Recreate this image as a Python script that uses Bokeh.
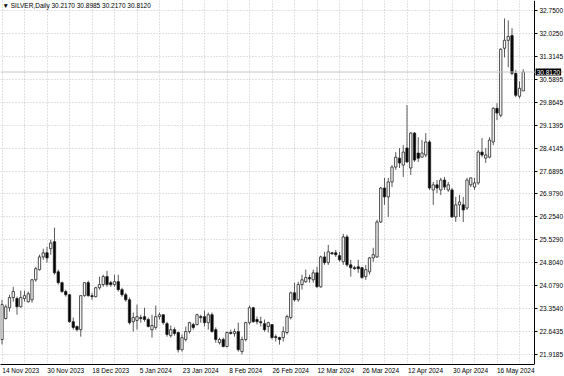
from bokeh.plotting import figure
from bokeh.models import (Range1d, FixedTicker, NumeralTickFormatter, Span, Label,
                          BoxAnnotation, ColumnDataSource)
from bokeh.embed import file_html
from bokeh.resources import INLINE

# ---- data (SILVER, Daily), one entry per bar ----
opens = [22.39, 23.05, 23.39, 23.71, 23.68, 23.42, 23.68, 23.58, 23.64, 24.27,
         24.59, 24.99, 25.12, 25.25, 25.47, 24.52, 24.18, 23.90, 23.80, 22.95,
         22.80, 22.70, 23.77, 24.18, 23.77, 23.74, 24.02, 24.12, 24.37, 24.18,
         24.12, 24.21, 23.96, 23.80, 23.64, 22.95, 22.99, 23.08, 23.11, 23.02,
         22.70, 22.77, 23.11, 23.17, 22.89, 22.51, 22.70, 22.61, 22.07, 22.39,
         22.64, 22.86, 22.86, 23.11, 23.11, 22.92, 23.17, 22.70, 22.29, 22.39,
         22.17, 22.61, 22.58, 22.64, 22.01, 22.39, 22.92, 23.39, 23.02, 22.95,
         22.89, 22.80, 22.86, 22.48, 22.45, 22.45, 22.61, 23.08, 23.86, 23.64,
         24.12, 24.21, 24.34, 24.27, 24.49, 24.05, 24.99, 24.81, 25.12, 25.12,
         25.03, 24.84, 25.62, 24.74, 24.65, 24.68, 24.65, 24.37, 24.52, 24.96,
         24.99, 26.09, 27.16, 26.88, 27.35, 27.82, 28.10, 27.88, 28.42, 27.79,
         28.89, 28.26, 28.13, 28.20, 28.61, 27.10, 27.26, 27.10, 27.41, 27.10,
         27.10, 26.25, 26.63, 26.63, 26.53, 27.26, 27.19, 27.32, 28.29, 28.10,
         28.13, 28.61, 29.67, 29.45, 31.56, 31.81, 31.96, 30.77, 30.05, 30.2170]
highs = [23.64, 23.49, 23.80, 24.05, 23.74, 23.93, 23.93, 23.90, 24.30, 24.68,
         25.06, 25.25, 25.31, 25.53, 25.91, 24.59, 24.21, 23.96, 23.83, 23.08,
         22.83, 23.77, 24.18, 24.24, 23.86, 24.05, 24.37, 24.43, 24.55, 24.24,
         24.43, 24.43, 24.02, 23.86, 23.71, 23.24, 23.49, 23.17, 23.39, 23.08,
         23.17, 23.46, 23.24, 23.17, 22.95, 22.83, 22.77, 22.64, 22.55, 22.80,
         22.95, 22.92, 23.20, 23.17, 23.30, 23.24, 23.24, 22.77, 22.45, 22.45,
         22.64, 22.70, 22.73, 22.92, 22.48, 22.95, 23.46, 23.42, 23.11, 23.11,
         23.02, 22.95, 22.86, 22.55, 22.48, 22.80, 23.17, 23.90, 24.18, 24.21,
         24.43, 24.59, 24.43, 24.59, 24.68, 25.03, 25.15, 25.37, 25.15, 25.21,
         25.15, 25.72, 25.69, 24.90, 24.71, 24.90, 24.68, 24.74, 24.99, 25.28,
         26.16, 27.19, 27.48, 27.48, 27.88, 28.29, 28.42, 28.51, 29.77, 28.92,
         28.92, 28.76, 28.67, 28.89, 28.67, 27.35, 27.41, 27.48, 27.51, 27.35,
         27.16, 26.88, 26.94, 26.88, 27.48, 27.48, 27.48, 28.35, 28.73, 28.42,
         28.76, 29.70, 29.83, 31.56, 32.50, 32.44, 32.19, 30.87, 30.52, 30.8985]
lows = [22.23, 23.02, 23.27, 23.58, 23.17, 23.39, 23.58, 23.55, 23.55, 24.21,
        24.56, 24.90, 24.81, 25.06, 24.43, 24.12, 23.86, 23.74, 22.92, 22.70,
        22.64, 22.48, 23.74, 23.74, 23.64, 23.71, 23.96, 24.05, 24.05, 24.05,
        24.05, 23.90, 23.74, 23.58, 22.86, 22.64, 22.70, 22.92, 22.95, 22.77,
        22.45, 22.70, 23.02, 22.86, 22.48, 22.45, 22.51, 21.98, 22.01, 22.33,
        22.58, 22.70, 22.83, 22.92, 22.80, 22.70, 22.61, 22.29, 22.23, 22.14,
        22.14, 22.55, 22.48, 22.01, 21.92, 22.33, 22.86, 22.92, 22.86, 22.80,
        22.64, 22.61, 22.39, 22.33, 22.23, 22.33, 22.55, 23.02, 23.58, 23.58,
        23.96, 24.18, 24.18, 24.18, 24.02, 24.02, 24.74, 24.74, 25.06, 24.99,
        24.84, 24.74, 24.68, 24.37, 24.59, 24.49, 24.30, 24.27, 24.43, 24.84,
        24.96, 26.06, 26.63, 26.25, 27.19, 27.73, 27.79, 27.51, 27.95, 27.57,
        27.98, 27.98, 28.13, 28.13, 27.10, 26.63, 27.00, 26.94, 27.10, 27.04,
        26.22, 26.09, 26.25, 26.09, 26.47, 27.19, 27.10, 27.26, 28.13, 27.95,
        28.10, 28.51, 29.30, 29.39, 31.27, 30.96, 30.71, 30.02, 29.98, 30.2170]
closes = [23.49, 23.42, 23.71, 23.90, 23.42, 23.71, 23.77, 23.83, 24.27, 24.62,
          24.99, 25.12, 24.96, 25.43, 24.49, 24.18, 23.90, 23.80, 22.95, 22.77,
          22.70, 23.77, 24.18, 23.77, 23.74, 24.02, 24.12, 24.37, 24.12, 24.12,
          24.21, 23.96, 23.80, 23.64, 22.92, 23.08, 23.11, 23.05, 23.02, 22.80,
          22.83, 23.11, 23.17, 22.92, 22.55, 22.70, 22.58, 22.07, 22.45, 22.64,
          22.92, 22.77, 23.17, 23.08, 22.92, 23.17, 22.64, 22.39, 22.39, 22.17,
          22.61, 22.58, 22.64, 22.07, 22.39, 22.92, 23.39, 22.95, 22.95, 22.92,
          22.70, 22.92, 22.45, 22.45, 22.39, 22.64, 23.11, 23.86, 23.64, 24.12,
          24.27, 24.34, 24.30, 24.49, 24.05, 24.99, 24.81, 25.15, 25.09, 25.06,
          24.90, 25.62, 24.74, 24.65, 24.62, 24.62, 24.34, 24.59, 24.96, 25.06,
          26.09, 27.16, 26.88, 27.35, 27.82, 28.13, 27.95, 28.29, 27.98, 28.89,
          28.04, 28.10, 28.26, 28.61, 27.16, 27.26, 27.16, 27.41, 27.19, 27.26,
          26.25, 26.63, 26.72, 26.47, 27.41, 27.48, 27.32, 28.29, 28.20, 28.20,
          28.67, 29.67, 29.52, 31.53, 31.81, 31.93, 30.77, 30.08, 30.30, 30.8120]

price_ticks = [32.7500, 32.0250, 31.3145, 30.5895, 29.8645, 29.1395, 28.4145, 27.6895,
               26.9790, 26.2540, 25.5290, 24.8040, 24.0790, 23.3540, 22.6435, 21.9185]
date_labels = ["14 Nov 2023", "30 Nov 2023", "18 Dec 2023", "5 Jan 2024", "23 Jan 2024",
               "8 Feb 2024", "26 Feb 2024", "12 Mar 2024", "26 Mar 2024", "12 Apr 2024",
               "30 Apr 2024", "16 May 2024"]
date_label_bars = [0, 12, 24, 36, 48, 60, 72, 84, 96, 108, 120, 132]
symbol_text = "SILVER,Daily"
last_price = 30.8120

# ---- build ----
n = len(opens)
xs = list(range(n))
bull = [c >= o for o, c in zip(opens, closes)]
src = ColumnDataSource(dict(
    x=xs, open=opens, high=highs, low=lows, close=closes,
    top=[max(o, c) for o, c in zip(opens, closes)],
    bottom=[min(o, c) for o, c in zip(opens, closes)],
    fill=["#ffffff" if b else "#000000" for b in bull],
))

X_START = -0.4     # left edge of the chart area
X_END = 142.0      # position of the price scale line
X_CANVAS = 150.0   # right edge of the canvas (price scale lives inside the frame)
p = figure(width=564, height=376, output_backend="svg", toolbar_location=None,
           x_range=Range1d(X_START, X_CANVAS), y_range=Range1d(21.603, 33.064),
           y_axis_location="right", min_border_left=0, min_border_top=0,
           min_border_right=0, min_border_bottom=11,
           background_fill_color="white", border_fill_color="white",
           outline_line_color=None)

FONT = "Liberation Sans"

# grid
p.xgrid.ticker = FixedTicker(ticks=list(range(0, 142, 6)))
p.ygrid.ticker = FixedTicker(ticks=price_ticks)
for g in (p.xgrid, p.ygrid):
    g.grid_line_color = "#c4c4c4"
    g.grid_line_dash = "1 2"
    g.grid_line_width = 1

# blank price-scale strip (grid lines stop at the scale)
p.add_layout(BoxAnnotation(left=X_END, fill_color="white", fill_alpha=1.0,
                           line_color=None, level="underlay"))

# price line
p.add_layout(Span(location=last_price, dimension="width", line_color="#c8c8c8", line_width=1))

# candles
p.segment(x0="x", y0="low", x1="x", y1="high", source=src, line_color="#5a5a5a", line_width=1)
p.vbar(x="x", width=0.62, top="top", bottom="bottom", source=src,
       fill_color="fill", line_color="#222222", line_width=0.8)

# y axis (price scale) pinned at X_END
ya = p.yaxis[0]
ya.fixed_location = X_END
ya.ticker = FixedTicker(ticks=price_ticks)
ya.formatter = NumeralTickFormatter(format="0.0000")
ya.major_label_text_font = FONT
ya.major_label_text_font_size = "6.5px"
ya.major_label_text_color = "#000000"
ya.major_tick_out = 3
ya.major_tick_in = 0
ya.minor_tick_out = 0
ya.minor_tick_in = 0
ya.major_label_standoff = 2
ya.axis_line_color = "#000000"
ya.major_tick_line_color = "#000000"

# x axis (bottom) - labels start just right of their grid line
xa = p.xaxis[0]
xa.bounds = (X_START, X_END)
label_pos = [b + 5 for b in date_label_bars]
xa.ticker = FixedTicker(ticks=label_pos)
xa.major_label_overrides = {pos: lab for pos, lab in zip(label_pos, date_labels)}
xa.major_label_text_font = FONT
xa.major_label_text_font_size = "6.5px"
xa.major_label_text_color = "#000000"
xa.major_tick_out = 0
xa.major_tick_in = 0
xa.minor_tick_out = 0
xa.minor_tick_in = 0
xa.major_label_standoff = 2
xa.axis_line_color = "#000000"

# current price tag on the price scale
tag_kw = dict(x=X_END + 0.3, y=last_price, x_units="data", y_units="data",
              text=f"{last_price:.4f}", text_color="white", text_font=FONT,
              text_font_size="6.5px", text_baseline="middle", text_align="left",
              background_fill_color="#000000")
try:
    tag = Label(padding=1, **tag_kw)
except Exception:
    tag = Label(**tag_kw)
p.add_layout(tag)

# header text
header = f"\u25BC {symbol_text}  {opens[-1]:.4f} {highs[-1]:.4f} {lows[-1]:.4f} {closes[-1]:.4f}"
p.add_layout(Label(x=2, y=359, x_units="screen", y_units="screen", text=header,
                   text_color="#000000", text_font=FONT, text_font_size="6.5px",
                   text_baseline="middle", text_align="left"))

open("out.html", "w").write(file_html(p, INLINE))
